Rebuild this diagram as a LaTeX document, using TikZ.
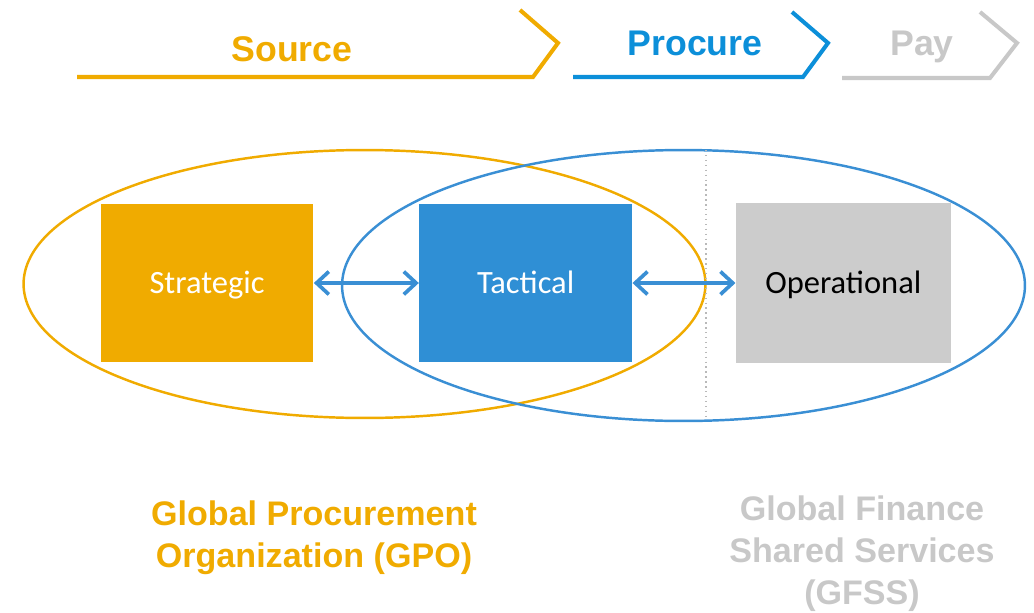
\documentclass[tikz,border=0pt]{standalone}
\usepackage{fontspec}
\setmainfont{Liberation Sans}
\newfontfamily\boxfont{Carlito}
\usetikzlibrary{positioning,shapes.geometric,arrows.meta}
\definecolor{srcgold}{HTML}{F0AB00}
\definecolor{procblue}{HTML}{0C8FD9}
\definecolor{tacblue}{HTML}{2F8FD5}
\definecolor{linkblue}{HTML}{3A8FD4}
\definecolor{paygray}{HTML}{C8C8C8}
\definecolor{opgray}{HTML}{CCCCCC}
\tikzset{phase/.style={line width=2.3pt, line join=miter},
         phase label/.style={anchor=base, font=\fontsize{20.3}{24}\selectfont\bfseries},
         level/.style={minimum width=4.26cm, minimum height=3.16cm, inner sep=0pt,
                       text height=13pt, text depth=1.6pt,
                       font=\boxfont\fontsize{18.5}{22}\selectfont},
         zone/.style={ellipse, draw, line width=1.4pt, inner sep=0pt},
         link/.style={{Straight Barb[length=7pt,width=13pt]}-{Straight Barb[length=7pt,width=13pt]},
                      line width=2.1pt, draw=linkblue},
         org/.style={anchor=base, align=center, font=\fontsize{19.4}{23.9}\selectfont\bfseries}}

\begin{document}
\begin{tikzpicture}[x=0.02cm,y=-0.02cm]
\useasboundingbox (0,0) rectangle (1034,612);

% phase chevrons
\draw[phase,srcgold] (77,77) -- (533,77) -- (558,43) -- (520,10);
\draw[phase,procblue] (573,77) -- (803,77) -- (828,43) -- (792,12);
\draw[phase,paygray] (842,78) -- (990,78) -- (1017,43) -- (980,12);
\node[phase label,text=srcgold] (source) at (292,61) {Source};
\node[phase label,text=procblue] (procure) at (695,55) {Procure};
\node[phase label,text=paygray] (pay) at (922,55) {Pay};

% organisation zones
\node[zone,draw=srcgold,minimum width=13.64cm,minimum height=5.36cm] (gpoZone) at (364.5,284) {};
\node[zone,draw=linkblue,minimum width=13.66cm,minimum height=5.42cm] (gfssZone) at (683.5,285.5) {};
\draw[dotted,line width=0.8pt,gray!55] (706,150) -- (706,420);

\node[level,fill=srcgold,text=white] (strat) at (207,283) {Strategic};
\node[level,fill=tacblue,text=white,right=2.1cm of strat] (tact) {Tactical};
\node[level,fill=opgray,text=black,minimum width=4.3cm,minimum height=3.2cm,right=2.06cm of tact] (oper) {Operational};

\draw[link] (strat) -- (tact);
\draw[link] (tact) -- (oper);

% last line baselines
\node[org,text=srcgold] (gpo) at (314,567) {Global Procurement\\Organization (GPO)};
\node[org,text=paygray] (gfss) at (862,604) {Global Finance\\Shared Services\\(GFSS)};

\end{tikzpicture}
\end{document}
